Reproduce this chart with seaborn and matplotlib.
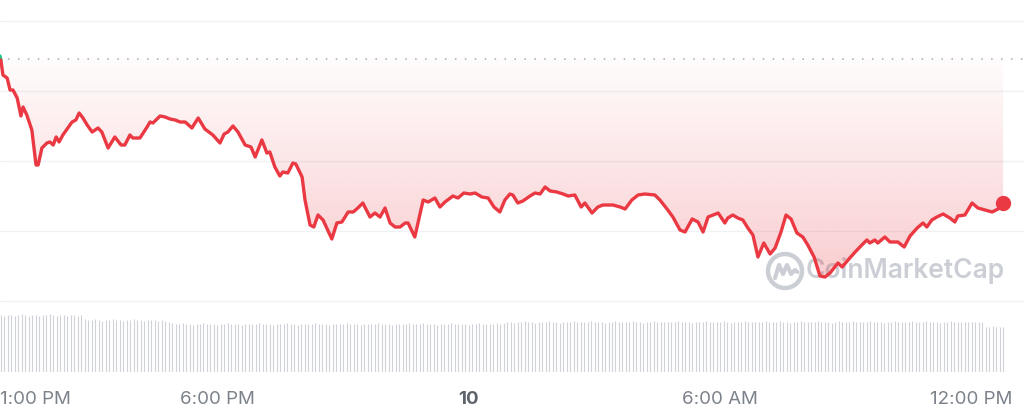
import matplotlib.pyplot as plt
import matplotlib.transforms as mtransforms
import numpy as np
import pandas as pd
import seaborn as sns

# price series: time in hours since midnight of day 9, price in USD
hours = [
    12.81, 12.83, 12.88, 12.98, 13.05, 13.12, 13.22, 13.31, 13.36, 13.45, 13.57, 13.67, 13.72,
    13.81, 13.93, 14.00, 14.08, 14.15, 14.22, 14.31, 14.43, 14.53, 14.62, 14.70, 14.79, 14.89,
    15.01, 15.15, 15.24, 15.39, 15.55, 15.70, 15.79, 15.91, 15.98, 16.15, 16.32,
    16.39, 16.46, 16.63, 16.75, 16.87, 16.99, 17.11, 17.23, 17.39, 17.54, 17.70, 17.89, 18.06,
    18.16, 18.25, 18.37, 18.49, 18.66, 18.80, 18.90, 19.06, 19.18, 19.25, 19.37, 19.49, 19.56,
    19.68, 19.80,
    19.87, 20.02, 20.09, 20.21, 20.30, 20.40, 20.52, 20.73, 20.85, 20.97, 21.12, 21.24, 21.35,
    21.47, 21.64, 21.76, 21.88, 22.00, 22.12, 22.24, 22.36, 22.48, 22.55, 22.71, 22.91, 23.03,
    23.19,
    23.31, 23.43, 23.62, 23.74, 23.88, 24.03, 24.15, 24.31, 24.46, 24.60, 24.74, 24.86, 24.98,
    25.05, 25.17, 25.29, 25.46, 25.58, 25.70, 25.82, 25.94, 26.10, 26.25, 26.37, 26.53, 26.68,
    26.77, 26.94, 27.08, 27.20, 27.44, 27.61, 27.73, 27.89, 28.04, 28.20, 28.44, 28.56, 28.73,
    28.87, 29.04, 29.16, 29.33, 29.47, 29.59, 29.71, 29.83, 29.95, 30.11,
    30.18, 30.30, 30.42, 30.54, 30.66, 30.78, 30.90, 31.04, 31.19, 31.31, 31.45, 31.57, 31.69,
    31.83, 31.97, 32.09, 32.24, 32.38, 32.50, 32.62, 32.81, 32.91, 33.05, 33.22, 33.38, 33.50,
    33.57, 33.69, 33.76, 33.93, 34.05, 34.24, 34.39, 34.53, 34.70, 34.84, 34.93, 35.05, 35.17,
    35.32, 35.48, 35.60, 35.67, 35.84, 36.01, 36.15, 36.32, 36.49, 36.63, 36.75,
]
price = [
    0.595, 0.591, 0.576, 0.573, 0.561, 0.561, 0.553, 0.535, 0.544, 0.536, 0.521, 0.486, 0.486,
    0.503, 0.508, 0.509, 0.506, 0.514, 0.509, 0.516, 0.523, 0.529, 0.531, 0.538, 0.533, 0.526,
    0.519, 0.523, 0.519, 0.503, 0.514, 0.506, 0.506, 0.516, 0.513, 0.513, 0.524,
    0.529, 0.528, 0.535, 0.534, 0.532, 0.531, 0.529, 0.529, 0.523, 0.533, 0.522, 0.516, 0.508,
    0.517, 0.519, 0.525, 0.519, 0.506, 0.504, 0.494, 0.511, 0.498, 0.499, 0.484, 0.475, 0.479,
    0.478, 0.488,
    0.487, 0.474, 0.451, 0.426, 0.424, 0.436, 0.431, 0.412, 0.428, 0.429, 0.439, 0.439, 0.443,
    0.448, 0.434, 0.438, 0.434, 0.443, 0.428, 0.424, 0.424, 0.428, 0.428, 0.414, 0.451, 0.449,
    0.453,
    0.444, 0.449, 0.455, 0.453, 0.458, 0.457, 0.458, 0.454, 0.453, 0.444, 0.439, 0.451, 0.457,
    0.456, 0.448, 0.450, 0.455, 0.458, 0.457, 0.464, 0.460, 0.459, 0.457, 0.455, 0.456, 0.444,
    0.448, 0.438, 0.444, 0.446, 0.446, 0.444, 0.442, 0.451, 0.456, 0.457, 0.456, 0.451, 0.442,
    0.434, 0.421, 0.419, 0.432, 0.429, 0.419, 0.434, 0.436, 0.438, 0.428,
    0.433, 0.436, 0.433, 0.431, 0.423, 0.416, 0.394, 0.408, 0.397, 0.403, 0.419, 0.436, 0.432,
    0.418, 0.414, 0.406, 0.394, 0.375, 0.374, 0.378, 0.388, 0.384, 0.391, 0.399, 0.406, 0.411,
    0.408, 0.411, 0.408, 0.414, 0.409, 0.409, 0.404, 0.415, 0.423, 0.428, 0.424, 0.431, 0.434,
    0.437, 0.433, 0.429, 0.435, 0.436, 0.448, 0.443, 0.441, 0.439, 0.442, 0.448,
]
open_price = 0.592

# 5-minute volume bars, 12:50 PM -> 12:45 PM next day (relative units)
volume = [
    57, 56, 57, 57, 56, 57, 58, 57, 56, 57, 57, 56, 57, 57, 58, 57, 56, 57, 57, 56, 57, 57, 56, 57,
    53, 52, 52, 53, 52, 51, 52, 52, 53, 52, 52, 51, 52, 52, 53, 52, 52, 51, 52, 52, 52, 51, 52, 51,
    50, 49, 48, 48, 49, 48, 48, 47, 48, 48, 49, 48, 48, 48, 47, 48, 48, 49, 48, 48, 48, 47, 48, 48,
    48, 48, 49, 48, 48, 48, 47, 48, 48, 48, 49, 48, 48, 47, 48, 48, 48, 48, 49, 48, 48, 48, 47, 48,
    48, 48, 48, 49, 48, 48, 48, 47, 48, 48, 48, 48, 49, 48, 48, 48, 47, 48, 48, 48, 48, 49, 48, 48,
    48, 49, 48, 48, 48, 47, 48, 48, 48, 49, 48, 48, 48, 48, 47, 48, 48, 49, 48, 48, 48, 48, 49, 48,
    49, 50, 50, 49, 50, 50, 51, 50, 50, 49, 50, 50, 50, 51, 50, 50, 49, 50, 50, 50, 51, 50, 50, 50,
    50, 51, 50, 50, 50, 49, 50, 50, 51, 50, 50, 50, 50, 51, 50, 50, 49, 50, 50, 51, 50, 50, 50, 50,
    50, 50, 51, 50, 50, 50, 49, 50, 50, 50, 51, 50, 50, 50, 50, 51, 50, 49, 50, 50, 50, 51, 50, 50,
    50, 50, 50, 51, 50, 50, 50, 51, 50, 50, 49, 50, 50, 51, 50, 50, 50, 50, 51, 50, 50, 50, 49, 50,
    51, 50, 50, 50, 51, 50, 50, 50, 50, 51, 50, 50, 50, 49, 50, 50, 51, 50, 50, 50, 50, 51, 50, 50,
    50, 51, 50, 50, 50, 49, 50, 50, 51, 50, 50, 50, 50, 50, 50, 50, 50, 50, 45, 45, 46, 45, 45, 45,
]
vol_start, vol_step = 12.0 + 50 / 60, 5 / 60

tick_hours = [13, 18, 24, 30, 36]
tick_labels = ["1:00 PM", "6:00 PM", "10", "6:00 AM", "12:00 PM"]
grid_prices = [0.35, 0.42, 0.49, 0.56, 0.63]

RED = "#ea3943"
GREEN = "#16c784"
GRID = "#eff1f4"
TEXT = "#7c828b"

sns.set_theme(style="white")
plt.rcParams["font.family"] = ["Inter", "DejaVu Sans"]

df = pd.DataFrame({"hour": hours, "price": price})
vol_df = pd.DataFrame({"hour": vol_start + vol_step * np.arange(len(volume)), "volume": volume})

W, H = 1024, 419
fig = plt.figure(figsize=(W / 100, H / 100), dpi=100)
xlim = (12.81, 37.25)

# --- watermark (drawn first, sits under the price line)
WM = "#cbcfd5"
lax = fig.add_axes([763 / W, 1 - 293 / H, 44 / W, 44 / H])
lax.add_patch(plt.Circle((0, 0), 0.85, fill=False, color=WM, lw=3.2))
lax.plot([-0.5, -0.3, -0.1, 0.1, 0.3, 0.5, 0.62], [-0.35, 0.3, -0.15, 0.3, -0.15, 0.05, -0.05],
         color=WM, lw=3, solid_joinstyle="round", solid_capstyle="round")
lax.text(1.05, 0.0, "CoinMarketCap", color=WM, fontsize=19, fontweight="semibold",
         ha="left", va="center", clip_on=False)
lax.set_xlim(-1.1, 1.1)
lax.set_ylim(-1.1, 1.1)
lax.set_aspect("equal")
lax.axis("off")
lax.set_zorder(0)

# --- price panel
ax = fig.add_axes([0, 1 - 310 / H, 1, 310 / H])
ax.set_zorder(2)
ax.patch.set_alpha(0)
for g in grid_prices:
    ax.axhline(g, color=GRID, lw=1, zorder=0)
ax.axhline(open_price, xmin=0.008, color="#a3a9b1", lw=1.1, ls=(0, (1, 5.5)), zorder=1)

# gradient fill between opening price and the line
poly = ax.fill_between(df["hour"], df["price"], open_price, color="none", lw=0)
low = df["price"].min()
grad = np.zeros((256, 1, 4))
grad[..., :3] = plt.matplotlib.colors.to_rgb(RED)
grad[..., 3] = np.linspace(0.25, 0.015, 256)[:, None]
im = ax.imshow(grad, extent=[df["hour"].iloc[0], df["hour"].iloc[-1], low, open_price],
               origin="lower", aspect="auto", zorder=1, interpolation="bilinear")
im.set_clip_path(poly.get_paths()[0], transform=ax.transData)

sns.lineplot(data=df.iloc[:2], x="hour", y="price", color=GREEN, lw=2.4, ax=ax, zorder=3)
sns.lineplot(data=df.iloc[1:], x="hour", y="price", color=RED, lw=2.4, ax=ax, zorder=4)
ax.plot(df["hour"].iloc[-1], df["price"].iloc[-1], "o", color=RED, ms=10, zorder=5)
ax.set_xlim(*xlim)
ax.set_ylim(0.341, 0.651)
ax.axis("off")

# --- volume panel
vax = fig.add_axes([0, 1 - 372 / H, 1, 60 / H], sharex=ax)
vax.vlines(vol_df["hour"], 0, vol_df["volume"], color="#cfd3d9", lw=0.8)
vax.axhline(0, color=GRID, lw=1)
vax.set_ylim(0, 60)
vax.set_xlim(*xlim)
for s in vax.spines.values():
    s.set_visible(False)
vax.set_yticks([])
vax.set_xticks(tick_hours)
vax.set_xticklabels(tick_labels)
vax.tick_params(axis="x", length=0, pad=13.5, labelsize=13.5, labelcolor=TEXT)
vax.set_xlabel("")
labels = vax.get_xticklabels()
labels[0].set_horizontalalignment("left")
labels[0].set_transform(labels[0].get_transform()
                        + mtransforms.ScaledTranslation(-8 / 100, 0, fig.dpi_scale_trans))
labels[2].set_fontweight("bold")
labels[2].set_color("#5f646c")

fig.savefig("out.png", dpi=100)
